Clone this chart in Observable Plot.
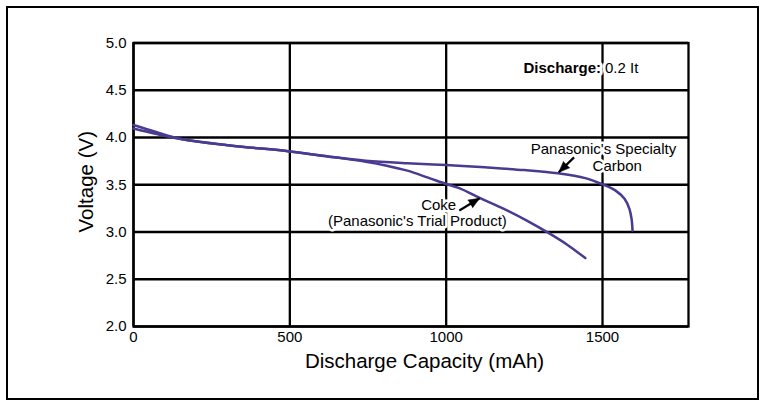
<!DOCTYPE html>
<html>
<head>
<meta charset="utf-8">
<script src="https://cdn.jsdelivr.net/npm/d3@7"></script>
<script src="https://cdn.jsdelivr.net/npm/@observablehq/plot@0.6"></script>
<style>
  html, body { margin: 0; padding: 0; background: #fff; }
  #wrap { position: relative; width: 766px; height: 407px; overflow: hidden; }
  #border { position: absolute; left: 6px; top: 6px; width: 753px; height: 394px; box-sizing: border-box; border: 2px solid #000; pointer-events: none; }
</style>
</head>
<body>
<div id="wrap"><div id="chart"></div><div id="border"></div></div>
<script>
// ---- data ----
const specialtyCapacity = [0, 70, 152, 315, 500, 643, 743, 876, 1000, 1124, 1250, 1357, 1445, 1497, 1520, 1542, 1571, 1586, 1593, 1596];
const specialtyVoltage  = [4.096, 4.040, 3.984, 3.913, 3.853, 3.790, 3.755, 3.728, 3.709, 3.684, 3.655, 3.621, 3.570, 3.508, 3.477, 3.438, 3.350, 3.244, 3.138, 3.015];

const cokeCapacity = [0, 70, 152, 315, 500, 643, 743, 810, 876, 942, 1000, 1037, 1071, 1095, 1183, 1255, 1323, 1387, 1445];
const cokeVoltage  = [4.132, 4.061, 3.984, 3.913, 3.853, 3.790, 3.744, 3.702, 3.649, 3.575, 3.508, 3.469, 3.420, 3.380, 3.247, 3.126, 2.998, 2.866, 2.724];

const xTicks = [0, 500, 1000, 1500];
const yTicks = [2.0, 2.5, 3.0, 3.5, 4.0, 4.5, 5.0];
const xDomain = [0, 1775];
const yDomain = [2, 5];

const xTitle = "Discharge Capacity (mAh)";
const yTitle = "Voltage (V)";

// annotation labels (data coordinates)
const labelText = ["Panasonic's Specialty", "Carbon", "Coke", "(Panasonic's Trial Product)"];
const labelX    = [1503, 1547, 976, 908];
const labelY    = [3.872, 3.692, 3.280, 3.113];

const conditionBold = "Discharge:";
const conditionValue = "0.2 It";
const conditionX = 1500;
const conditionY = 4.731;

// arrows: tail (x1,y1) -> tip (x2,y2)
const arrowX1 = [1409, 1042];
const arrowY1 = [3.790, 3.227];
const arrowX2 = [1360, 1107];
const arrowY2 = [3.632, 3.357];

// ---- build tables ----
const specialty = specialtyCapacity.map((c, i) => ({capacity: c, voltage: specialtyVoltage[i]}));
const coke = cokeCapacity.map((c, i) => ({capacity: c, voltage: cokeVoltage[i]}));
const labels = labelText.map((t, i) => ({text: t, x: labelX[i], y: labelY[i]}));
const arrows = arrowX1.map((x1, i) => ({x1, y1: arrowY1[i], x2: arrowX2[i], y2: arrowY2[i]}));

const curveColor = "#4b3a91";
const font = "'Liberation Sans', Arial, Helvetica, sans-serif";

const baseOptions = {
  width: 766,
  height: 407,
  marginLeft: 133,
  marginRight: 78,
  marginTop: 42.5,
  marginBottom: 81,
  style: {fontFamily: font, fontSize: "15px", color: "#000", background: "transparent"},
  x: {domain: xDomain, ticks: xTicks},
  y: {domain: yDomain, ticks: yTicks}
};

function marks(angles) {
  const m = [
    Plot.gridX(xTicks, {stroke: "#000", strokeOpacity: 1, strokeWidth: 2.3}),
    Plot.gridY(yTicks, {stroke: "#000", strokeOpacity: 1, strokeWidth: 2.3}),
    Plot.frame({stroke: "#000", strokeWidth: 2.3}),
    Plot.axisX(xTicks, {tickSize: 0, tickPadding: 5, label: null, fontSize: 15, tickFormat: d3.format("d")}),
    Plot.axisY(yTicks, {tickSize: 0, tickPadding: 7, label: null, fontSize: 15, tickFormat: d3.format(".1f")}),
    Plot.text([xTitle], {frameAnchor: "bottom", text: d => d, textAnchor: "middle", lineAnchor: "middle", dx: 13.5, dy: 35, fontSize: 20.5, fill: "#000"}),
    Plot.text([yTitle], {frameAnchor: "left", text: d => d, textAnchor: "middle", lineAnchor: "middle", rotate: -90, dx: -47, dy: -3, fontSize: 20.5, fill: "#000"}),
    Plot.text(labels, {x: "x", y: "y", text: "text", fontSize: 15, fill: "#000", stroke: "#fff", strokeWidth: 5, paintOrder: "stroke"}),
    Plot.text([conditionBold], {x: () => conditionX, y: () => conditionY, text: d => d, textAnchor: "end", dx: -1.5, fontSize: 15, fontWeight: "bold", fill: "#000", stroke: "#fff", strokeWidth: 6, paintOrder: "stroke"}),
    Plot.text([conditionValue], {x: () => conditionX, y: () => conditionY, text: d => d, textAnchor: "start", dx: 2.5, fontSize: 15, fill: "#000", stroke: "#fff", strokeWidth: 6, paintOrder: "stroke"}),
    Plot.line(specialty, {x: "capacity", y: "voltage", stroke: curveColor, strokeWidth: 2.5, curve: "catmull-rom"}),
    Plot.line(coke, {x: "capacity", y: "voltage", stroke: curveColor, strokeWidth: 2.5, curve: "catmull-rom"}),
    Plot.link(arrows, {x1: "x1", y1: "y1", x2: "x2", y2: "y2", stroke: "#000", strokeWidth: 2.2})
  ];
  if (angles) {
    m.push(Plot.vector(arrows, {x: "x2", y: "y2", rotate: (d, i) => angles[i], length: 11, r: 4.5, shape: "spike", anchor: "end", fill: "#000", stroke: "#000", strokeWidth: 0.5}));
  }
  return m;
}

// first pass: obtain the scales to orient arrowheads along the arrows
const probe = Plot.plot({...baseOptions, marks: marks(null)});
const sx = probe.scale("x"), sy = probe.scale("y");
const angles = arrows.map(a => {
  const dx = sx.apply(a.x2) - sx.apply(a.x1);
  const dy = sy.apply(a.y2) - sy.apply(a.y1);
  return Math.atan2(dx, -dy) * 180 / Math.PI;
});

const chart = Plot.plot({...baseOptions, marks: marks(angles)});
document.getElementById("chart").appendChild(chart);
</script>
</body>
</html>
